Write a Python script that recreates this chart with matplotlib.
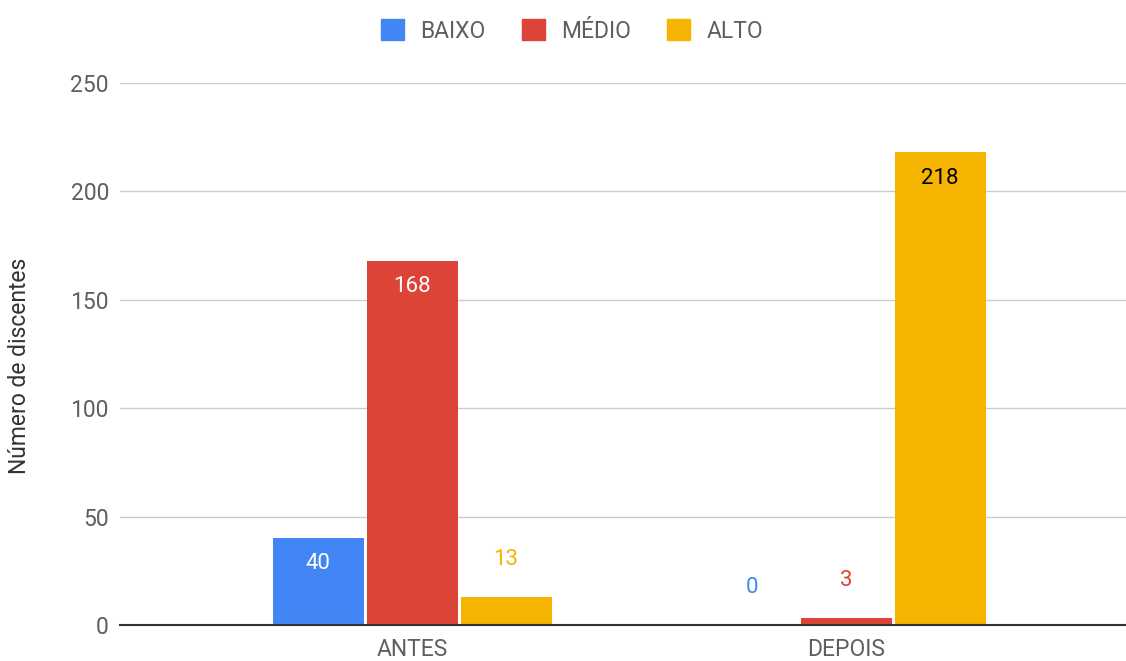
import matplotlib.pyplot as plt
import numpy as np
from matplotlib.patches import Patch

plt.rcParams['font.family'] = ['Roboto', 'DejaVu Sans']

categories = ["ANTES", "DEPOIS"]
series = ["BAIXO", "MÉDIO", "ALTO"]
baixo = [40, 0]
medio = [168, 3]
alto = [13, 218]
values = [baixo, medio, alto]
colors = ["#4285F4", "#DB4437", "#F4B400"]
inside_colors = ["white", "white", "black"]
yticks = [0, 50, 100, 150, 200, 250]

text_gray = "#5f5f5f"

fig = plt.figure(figsize=(11.26, 6.61), dpi=100)
ax = fig.add_axes([120 / 1126, 36 / 661, 1006 / 1126, 542 / 661])

x = np.arange(len(categories))
step = 0.2166
width = 0.21

for i, (name, vals, col) in enumerate(zip(series, values, colors)):
    pos = x + (i - 1) * step
    bars = ax.bar(pos, vals, width=width, color=col, zorder=3)
    for b, v in zip(bars, vals):
        cx = b.get_x() + b.get_width() / 2
        if v >= 30:
            ax.annotate(str(v), (cx, v), xytext=(0, -18.5), textcoords="offset points",
                        ha="center", va="center", fontsize=16, color=inside_colors[i], zorder=4)
        else:
            ax.annotate(str(v), (cx, v), xytext=(0, 27), textcoords="offset points",
                        ha="center", va="center", fontsize=16, color=col, zorder=4)

ax.set_xlim(-0.673, 1.645)
ax.set_ylim(0, 250)
ax.set_yticks(yticks)
ax.set_xticks(x)
ax.set_xticklabels(categories)
ax.grid(axis="y", color="#cccccc", linewidth=1, zorder=0)
for s in ["top", "right", "left"]:
    ax.spines[s].set_visible(False)
ax.spines["bottom"].set_color("#333333")
ax.spines["bottom"].set_linewidth(1.5)
ax.spines["bottom"].set_zorder(5)
ax.tick_params(axis="both", length=0, labelsize=16.5, labelcolor=text_gray)
ax.tick_params(axis="y", pad=8)
ax.tick_params(axis="x", pad=9)

fig.text(20 / 1126, 1 - 366 / 661, "Número de discentes", rotation=90,
         ha="center", va="center", fontsize=16.5, color="#333333")

handles = [Patch(facecolor=c, edgecolor=c) for c in colors]
fig.legend(handles, series, loc="center", bbox_to_anchor=(572 / 1126, 1 - 31 / 661),
           ncol=3, frameon=False, fontsize=16.5, labelcolor=text_gray,
           handlelength=1.0, handleheight=1.0, columnspacing=1.6, handletextpad=0.7)

fig.savefig("out.png", dpi=100)
